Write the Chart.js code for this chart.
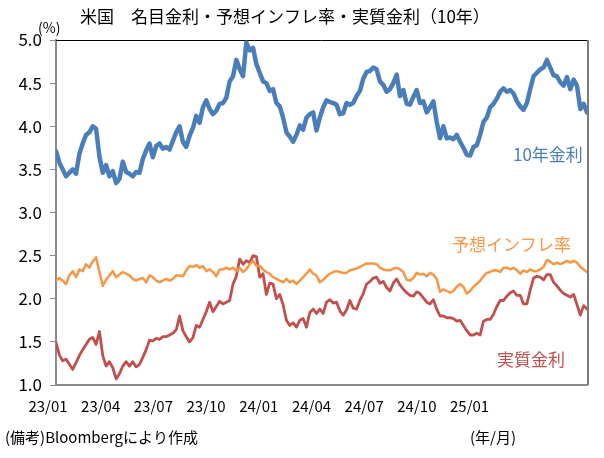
<!DOCTYPE html>
<html>
<head>
<meta charset="utf-8">
<script src="https://cdn.jsdelivr.net/npm/chart.js@4.4.1/dist/chart.umd.min.js"></script>
<style>
  html, body { margin: 0; padding: 0; background: #fff; }
  #wrap { width: 604px; height: 458px; position: relative; }
</style>
</head>
<body>
<div id="wrap"><canvas id="rates-chart" width="604" height="458"></canvas></div>
<script>
// 営業日ベースの系列（2023/01〜2025/03）、図から読み取った値
const nominal10y = [
  3.71, 3.58, 3.50, 3.42, 3.46, 3.50, 3.45, 3.68, 3.80, 3.90,
  3.93, 4.00, 3.97, 3.65, 3.46, 3.55, 3.42, 3.48, 3.34, 3.39,
  3.59, 3.47, 3.45, 3.42, 3.47, 3.46, 3.62, 3.72, 3.80, 3.64,
  3.77, 3.80, 3.74, 3.76, 3.73, 3.83, 3.93, 4.00, 3.82, 3.76,
  3.89, 3.98, 4.12, 4.04, 4.22, 4.30, 4.20, 4.14, 4.18, 4.26,
  4.27, 4.33, 4.52, 4.58, 4.77, 4.66, 4.58, 4.97, 4.88, 4.91,
  4.72, 4.62, 4.52, 4.50, 4.41, 4.43, 4.27, 4.23, 4.10, 3.93,
  3.88, 3.82, 3.90, 4.01, 3.96, 4.10, 4.14, 4.16, 3.95, 4.10,
  4.22, 4.30, 4.28, 4.27, 4.25, 4.14, 4.15, 4.27, 4.25, 4.27,
  4.35, 4.41, 4.55, 4.63, 4.64, 4.68, 4.66, 4.52, 4.48, 4.40,
  4.43, 4.50, 4.60, 4.35, 4.42, 4.26, 4.25, 4.34, 4.42, 4.27,
  4.29, 4.16, 4.22, 4.29, 4.05, 3.86, 4.00, 3.86, 3.87,
  3.85, 3.90, 3.82, 3.75, 3.67, 3.66, 3.76, 3.78, 3.90, 4.05,
  4.10, 4.22, 4.26, 4.32, 4.40, 4.44, 4.40, 4.42, 4.38, 4.29,
  4.23, 4.19, 4.27, 4.43, 4.58, 4.62, 4.66, 4.68, 4.77, 4.68,
  4.59, 4.58, 4.51, 4.47, 4.57, 4.43, 4.54, 4.47, 4.20, 4.26, 4.16
];
const breakeven = [
  2.21, 2.24, 2.21, 2.17, 2.27, 2.32, 2.25, 2.34, 2.32, 2.40,
  2.36, 2.43, 2.48, 2.31, 2.15, 2.22, 2.27, 2.32, 2.25, 2.28,
  2.31, 2.29, 2.27, 2.23, 2.21, 2.23, 2.24, 2.19, 2.27, 2.25,
  2.21, 2.19, 2.21, 2.23, 2.21, 2.23, 2.27, 2.27, 2.26, 2.33,
  2.38, 2.37, 2.39, 2.36, 2.38, 2.32, 2.34, 2.31, 2.26, 2.34,
  2.34, 2.36, 2.34, 2.36, 2.32, 2.36, 2.31, 2.34, 2.40, 2.44,
  2.38, 2.38, 2.34, 2.31, 2.29, 2.25, 2.23, 2.21, 2.19, 2.23,
  2.19, 2.21, 2.17, 2.21, 2.25, 2.29, 2.34, 2.29, 2.27, 2.19,
  2.22, 2.26, 2.29, 2.31, 2.32, 2.31, 2.30, 2.30, 2.33, 2.34,
  2.35, 2.37, 2.39, 2.41, 2.41, 2.41, 2.40, 2.36, 2.34, 2.33,
  2.33, 2.35, 2.36, 2.34, 2.31, 2.22, 2.21, 2.24, 2.30, 2.28,
  2.29, 2.26, 2.30, 2.28, 2.23, 2.08, 2.11, 2.09, 2.07,
  2.09, 2.14, 2.17, 2.14, 2.06, 2.09, 2.14, 2.17, 2.21, 2.26,
  2.30, 2.31, 2.33, 2.33, 2.31, 2.36, 2.36, 2.34, 2.36, 2.33,
  2.29, 2.33, 2.31, 2.34, 2.32, 2.32, 2.34, 2.37, 2.45, 2.43,
  2.40, 2.42, 2.40, 2.42, 2.44, 2.42, 2.44, 2.42, 2.37, 2.34, 2.31
];
const realRate = [
  1.49, 1.35, 1.28, 1.30, 1.24, 1.18, 1.26, 1.34, 1.41, 1.47,
  1.53, 1.55, 1.47, 1.62, 1.34, 1.22, 1.27, 1.20, 1.07, 1.13,
  1.22, 1.27, 1.22, 1.27, 1.21, 1.24, 1.32, 1.41, 1.52, 1.51,
  1.54, 1.53, 1.56, 1.56, 1.58, 1.60, 1.64, 1.80, 1.63, 1.56,
  1.50, 1.55, 1.69, 1.67, 1.76, 1.85, 1.96, 1.85, 1.91, 1.97,
  1.94, 1.96, 1.98, 2.17, 2.26, 2.46, 2.40, 2.44, 2.42, 2.50,
  2.49, 2.25, 2.29, 2.05, 2.18, 2.17, 2.00, 2.05, 1.93, 1.75,
  1.69, 1.72, 1.67, 1.75, 1.77, 1.67, 1.84, 1.88, 1.83, 1.88,
  1.83, 1.96, 1.99, 1.95, 1.96, 1.86, 1.81, 1.87, 1.98, 1.89,
  1.88, 1.98, 2.06, 2.17, 2.20, 2.24, 2.25, 2.18, 2.20, 2.13,
  2.09, 2.18, 2.23, 2.16, 2.11, 2.07, 2.04, 2.03, 2.08, 2.06,
  2.01, 1.96, 1.94, 1.99, 1.88, 1.80, 1.80, 1.78, 1.78,
  1.77, 1.74, 1.75, 1.69, 1.63, 1.58, 1.58, 1.60, 1.58, 1.74,
  1.76, 1.76, 1.82, 1.91, 1.98, 1.98, 2.03, 2.07, 2.09, 2.04,
  2.04, 1.94, 1.94, 2.10, 2.24, 2.26, 2.25, 2.22, 2.28, 2.28,
  2.19, 2.15, 2.10, 2.06, 2.04, 2.02, 2.05, 1.93, 1.81, 1.92, 1.88
];
const xTickLabels = ['23/01', '23/04', '23/07', '23/10', '24/01', '24/04', '24/07', '24/10', '25/01'];

const JP_FONT = '"Noto Sans CJK JP", "Noto Sans", sans-serif';
const BLUE = '#4a7ebb';
const ORANGE = '#f79646';
const RED = '#c0504d';

const toPoints = arr => arr.map((v, i) => ({ x: i, y: v }));

// 文字（タイトル、単位、系列名、備考）と枠線
const textPlugin = {
  id: 'textPlugin',
  beforeDatasetsDraw(chart) {
    const { ctx, chartArea } = chart;
    ctx.save();
    ctx.strokeStyle = '#000';
    ctx.lineWidth = 1;
    ctx.beginPath();
    ctx.moveTo(chartArea.left, chartArea.top + 0.5);
    ctx.lineTo(chartArea.right, chartArea.top + 0.5);
    ctx.stroke();
    ctx.strokeStyle = '#7a7a7a';
    ctx.lineWidth = 2;
    ctx.beginPath();
    ctx.moveTo(chartArea.right + 1, chartArea.top);
    ctx.lineTo(chartArea.right + 1, chartArea.bottom);
    ctx.stroke();
    ctx.restore();
  },
  afterDraw(chart) {
    const { ctx } = chart;
    ctx.save();
    ctx.textBaseline = 'middle';
    ctx.textAlign = 'left';
    ctx.fillStyle = '#000';
    ctx.font = `17px ${JP_FONT}`;
    ctx.fillText('米国　名目金利・予想インフレ率・実質金利（10年）', 80, 17);
    ctx.font = `14px ${JP_FONT}`;
    ctx.fillText('(%)', 38, 28);
    ctx.font = `15px ${JP_FONT}`;
    ctx.fillText('(備考)Bloombergにより作成', 5, 437);
    ctx.fillText('(年/月)', 470, 437);

    ctx.font = `17px ${JP_FONT}`;
    ctx.fillStyle = BLUE;
    ctx.fillText('10年金利', 513, 155);
    ctx.fillStyle = ORANGE;
    ctx.fillText('予想インフレ率', 452, 245);
    ctx.fillStyle = RED;
    ctx.fillText('実質金利', 497, 360);
    ctx.restore();
  }
};

new Chart(document.getElementById('rates-chart'), {
  type: 'line',
  data: {
    datasets: [
      { label: '10年金利', data: toPoints(nominal10y), borderColor: BLUE, borderWidth: 4.5 },
      { label: '予想インフレ率', data: toPoints(breakeven), borderColor: ORANGE, borderWidth: 2.5 },
      { label: '実質金利', data: toPoints(realRate), borderColor: RED, borderWidth: 2.8 }
    ]
  },
  options: {
    responsive: false,
    animation: false,
    layout: { padding: { top: 40, right: 17, bottom: 0, left: 0 } },
    elements: {
      point: { radius: 0 },
      line: { tension: 0, borderJoinStyle: 'round', borderCapStyle: 'round' }
    },
    plugins: {
      legend: { display: false },
      title: { display: false },
      tooltip: { enabled: false }
    },
    scales: {
      x: {
        type: 'linear',
        min: 0,
        max: nominal10y.length - 1,
        afterFit: s => { s.height = 73; },
        afterBuildTicks: s => {
          // ラベルは約15.8営業日間隔（元図のまま）
          s.ticks = xTickLabels.map((l, i) => ({ value: -2.4 + i * 15.78 }));
        },
        grid: { display: false },
        border: { display: true, color: '#8c8c8c', width: 2 },
        ticks: {
          autoSkip: false,
          maxRotation: 0,
          padding: 4,
          color: '#000',
          font: { family: JP_FONT, size: 15 },
          callback: (v, i) => xTickLabels[i]
        }
      },
      y: {
        min: 1,
        max: 5,
        afterFit: s => { s.width = 56; },
        grid: { drawOnChartArea: false, drawTicks: true, tickLength: 6, color: '#8c8c8c', lineWidth: 1 },
        border: { display: true, color: '#8c8c8c', width: 2 },
        ticks: {
          stepSize: 0.5,
          padding: 8,
          color: '#000',
          font: { family: JP_FONT, size: 17 },
          callback: v => v.toFixed(1)
        }
      }
    }
  },
  plugins: [textPlugin]
});
</script>
</body>
</html>
